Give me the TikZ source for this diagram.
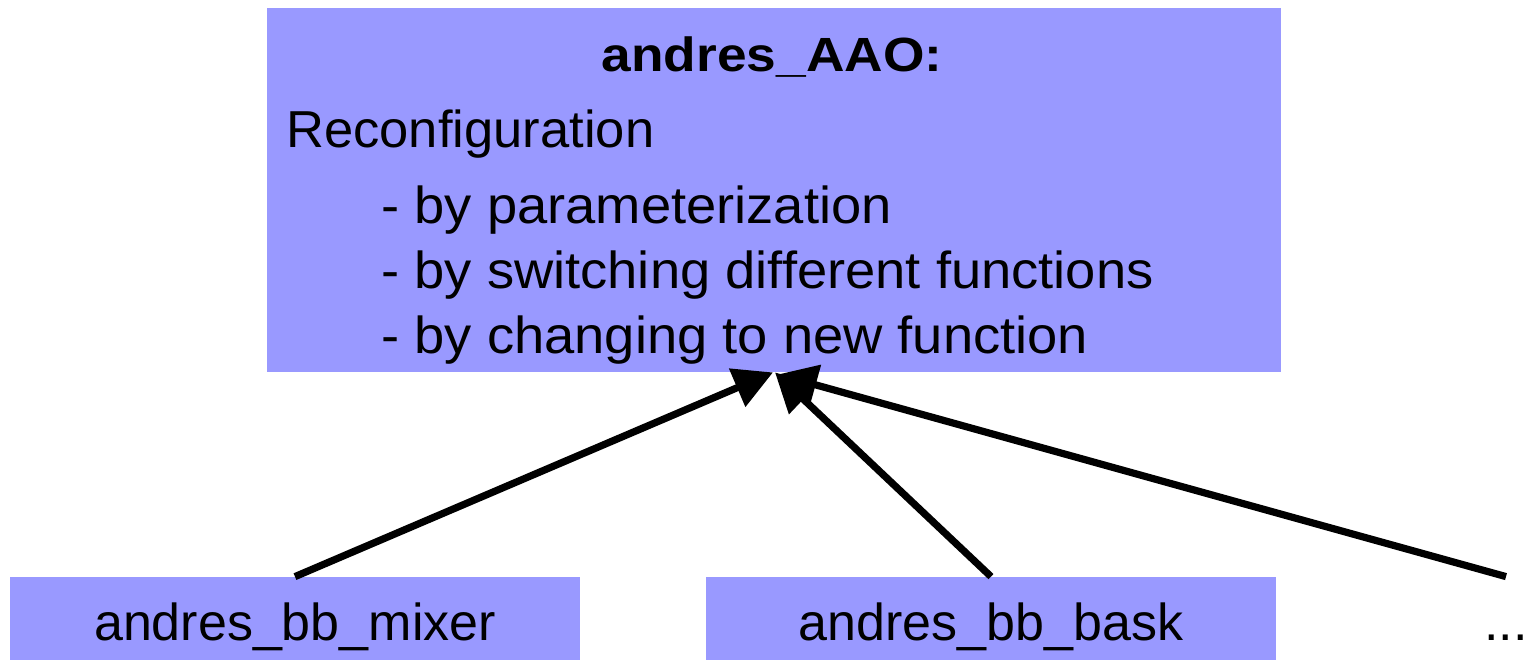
\documentclass[tikz,border=0pt]{standalone}
\usepackage{fontspec}
\setmainfont{Liberation Sans}
\usetikzlibrary{arrows.meta}
\definecolor{boxblue}{HTML}{9999FF}
\tikzset{
  bluebox/.style={fill=boxblue, draw=none, inner sep=0pt},
  lowbox/.style={bluebox, minimum width=285pt, minimum height=41.5pt,
    text height=21.5pt, text depth=0pt, font=\fontsize{26}{30}\selectfont},
  txt/.style={inner sep=0pt, font=\fontsize{26}{30}\selectfont},
  conn/.style={line width=3.6pt, -{Triangle[length=19.5pt, width=20pt]}}
}
\newcommand{\wider}[1]{\scalebox{1.045}[1]{#1}}
\begin{document}
\begin{tikzpicture}[x=0.5pt, y=-0.5pt]
\useasboundingbox (0,0) rectangle (1526,660);
\node[bluebox, minimum width=507pt, minimum height=182pt] (top) at (774,190) {};
\node[txt, anchor=base, font=\fontsize{24}{28}\selectfont\bfseries] (title) at (772,71) {\scalebox{1.11}[1]{andres\_AAO:}};
\node[txt, anchor=base west] (reconf) at (286,147) {\scalebox{1.01}[1]{Reconfiguration}};
\node[txt, anchor=base west] (l1) at (381,223) {\wider{- by parameterization}};
\node[txt, anchor=base west] (l2) at (381,288) {\wider{- by switching different functions}};
\node[txt, anchor=base west] (l3) at (381,353) {\wider{- by changing to new function}};
\node[lowbox] (mixer) at (295,618.5) {andres\_bb\_mixer};
\node[lowbox] (bask) at (991,618.5) {andres\_bb\_bask};
\node[lowbox, fill=none, minimum width=20pt] (dots) at (1506,618.5) {...};
\draw[conn] (mixer.north) -- ([xshift=-0.5pt]top.south);
\draw[conn] (dots.north) -- ([xshift=2pt,yshift=-1pt]top.south);
\draw[conn] (bask.north) -- ([xshift=0.5pt]top.south);
\end{tikzpicture}
\end{document}
